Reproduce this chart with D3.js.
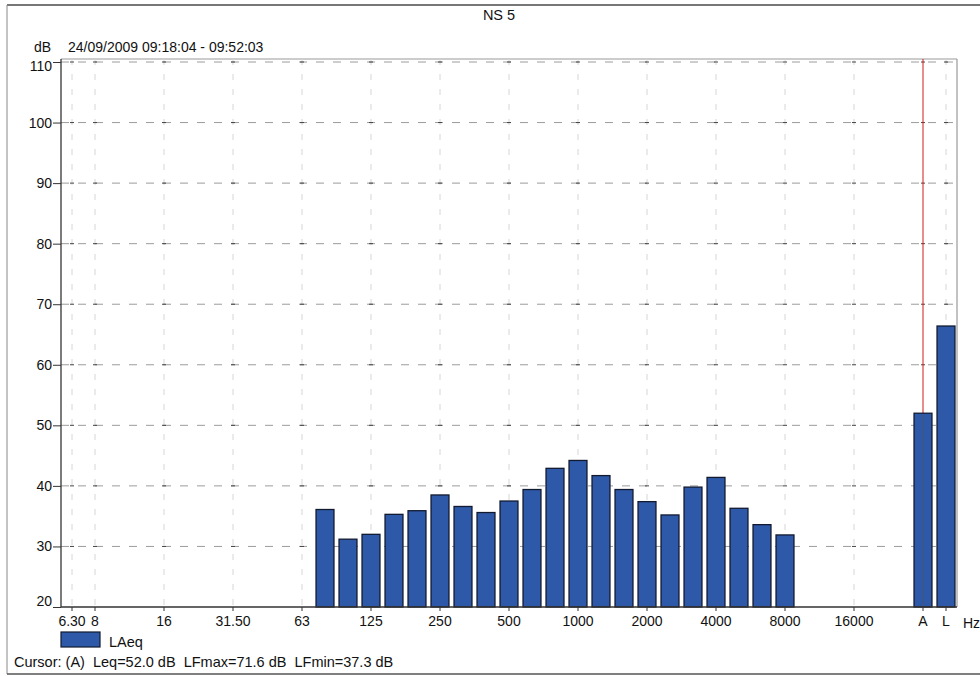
<!DOCTYPE html>
<html>
<head>
<meta charset="utf-8">
<script src="https://cdn.jsdelivr.net/npm/d3@7/dist/d3.min.js"></script>
<style>
  html, body { margin: 0; padding: 0; background: #fff; }
  svg { display: block; font-family: "Liberation Sans", Arial, sans-serif; }
</style>
</head>
<body>
<svg id="chart" width="980" height="676"></svg>
<script>
// Third-octave bands, a spacer slot, then the broadband A and L columns
const categories = ["6.30","8","10","12.5","16","20","25","31.50","40","50","63",
  "80","100","125","160","200","250","315","400","500","630","800","1000","1250",
  "1600","2000","2500","3150","4000","5000","6300","8000","10000","12500","16000",
  "20000","gap","A","L"];

// Bands shown on the frequency axis
const tickLabels = ["6.30","8","16","31.50","63","125","250","500","1000","2000",
  "4000","8000","16000","A","L"];

// LAeq per band (dB), 80 Hz .. 8000 Hz
const bandNames = ["80","100","125","160","200","250","315","400","500","630","800",
  "1000","1250","1600","2000","2500","3150","4000","5000","6300","8000"];
const bandValues = [36.1, 31.2, 32.0, 35.3, 35.9, 38.5, 36.6, 35.6, 37.5, 39.4, 42.9,
  44.2, 41.7, 39.4, 37.4, 35.2, 39.8, 41.4, 36.3, 33.6, 31.9];

// Broadband totals (dB)
const totalNames = ["A", "L"];
const totalValues = [52.0, 66.4];

const yTicks = [20, 30, 40, 50, 60, 70, 80, 90, 100, 110];

const svg = d3.select("#chart");

const x = d3.scaleBand()
  .domain(categories)
  .range([60.5, 957.5])
  .paddingInner(0.22)
  .paddingOuter(0.11);

const y = d3.scaleLinear().domain([20, 110]).range([607, 62]);

const plotTop = 59, plotBottom = 607, plotLeft = 61, plotRight = 957;
const cx = d => x(d) + x.bandwidth() / 2;
const barFill = "#2e59a8", barStroke = "#121a30";

// Outer page frame
svg.append("line").attr("x1", 7).attr("x2", 980).attr("y1", 5).attr("y2", 5)
  .attr("stroke", "#777").attr("stroke-width", 2);
svg.append("line").attr("x1", 7).attr("x2", 7).attr("y1", 5).attr("y2", 674)
  .attr("stroke", "#888").attr("stroke-width", 1);
svg.append("line").attr("x1", 7).attr("x2", 980).attr("y1", 674).attr("y2", 674)
  .attr("stroke", "#555").attr("stroke-width", 1.5);

// Title and header
svg.append("text").attr("x", 499).attr("y", 20).attr("text-anchor", "middle")
  .attr("font-size", 14.5).attr("fill", "#111").text("NS 5");
svg.append("text").attr("x", 34).attr("y", 52)
  .attr("font-size", 14).attr("fill", "#111").text("dB");
svg.append("text").attr("x", 68).attr("y", 52)
  .attr("font-size", 14).attr("fill", "#111").text("24/09/2009 09:18:04 - 09:52:03");

// Plot frame (top and right)
svg.append("line").attr("x1", plotLeft).attr("x2", plotRight).attr("y1", plotTop).attr("y2", plotTop)
  .attr("stroke", "#999").attr("stroke-width", 1.2);
svg.append("line").attr("x1", plotRight).attr("x2", plotRight).attr("y1", plotTop).attr("y2", plotBottom)
  .attr("stroke", "#999").attr("stroke-width", 1.2);

// Vertical grid at labelled bands
const grid = svg.append("g");
grid.selectAll("line.v")
  .data(tickLabels.filter(d => d !== "A"))
  .join("line")
  .attr("x1", d => cx(d)).attr("x2", d => cx(d))
  .attr("y1", plotTop).attr("y2", plotBottom)
  .attr("stroke", "#d6d6d6").attr("stroke-width", 1)
  .attr("stroke-dasharray", "6,9");

// Horizontal grid
grid.selectAll("line.h")
  .data(yTicks.slice(1))
  .join("line")
  .attr("x1", plotLeft).attr("x2", plotRight)
  .attr("y1", d => y(d)).attr("y2", d => y(d))
  .attr("stroke", "#9c9c9c").attr("stroke-width", 1)
  .attr("stroke-dasharray", "8,9");

// Small crosses where the grid lines meet
const crosses = [];
tickLabels.forEach(t => yTicks.slice(1).forEach(v => crosses.push([t, v])));
grid.selectAll("line.c")
  .data(crosses)
  .join("line")
  .attr("x1", d => cx(d[0]) - 2).attr("x2", d => cx(d[0]) + 2)
  .attr("y1", d => y(d[1])).attr("y2", d => y(d[1]))
  .attr("stroke", "#444").attr("stroke-width", 1);

// Cursor at A
svg.append("line").attr("x1", cx("A")).attr("x2", cx("A"))
  .attr("y1", plotTop).attr("y2", plotBottom)
  .attr("stroke", "#cc1a1a").attr("stroke-width", 1);

// Bars
const barData = bandNames.map((b, i) => ({ k: b, v: bandValues[i] }))
  .concat(totalNames.map((b, i) => ({ k: b, v: totalValues[i] })));

svg.append("g").selectAll("rect")
  .data(barData)
  .join("rect")
  .attr("x", d => x(d.k))
  .attr("width", x.bandwidth())
  .attr("y", d => y(d.v))
  .attr("height", d => y(20) - y(d.v))
  .attr("fill", barFill)
  .attr("stroke", barStroke)
  .attr("stroke-width", 1.3);

// Cursor trace showing through the A column
svg.append("line").attr("x1", cx("A")).attr("x2", cx("A"))
  .attr("y1", y(totalValues[0]) + 1).attr("y2", plotBottom)
  .attr("stroke", "#555").attr("stroke-opacity", 0.6).attr("stroke-width", 1);

// Y axis
const yAxis = d3.axisLeft(y).tickValues(yTicks).tickSize(8).tickPadding(1);
svg.append("g")
  .attr("transform", `translate(${plotLeft},0)`)
  .call(yAxis)
  .call(g => g.select(".domain").attr("d", `M0,${plotTop}V${plotBottom}`).attr("stroke", "#333").attr("stroke-width", 1.3))
  .call(g => g.selectAll(".tick line").attr("stroke", "#333"))
  .call(g => g.selectAll(".tick text").attr("font-size", 14).attr("fill", "#111")
    .attr("font-family", "Liberation Sans, Arial, sans-serif"))
  .call(g => g.selectAll(".tick").filter(d => d === 20).select("text").attr("dy", "-0.1em"))
  .call(g => g.selectAll(".tick").filter(d => d === 110).select("text").attr("dy", "0.62em"));

// X axis
const xAxis = d3.axisBottom(x).tickValues(tickLabels).tickSize(4).tickPadding(5);
svg.append("g")
  .attr("transform", `translate(0,${plotBottom})`)
  .call(xAxis)
  .call(g => g.select(".domain").attr("d", `M${plotLeft},0H${plotRight}`).attr("stroke", "#333").attr("stroke-width", 1.3))
  .call(g => g.selectAll(".tick line").attr("stroke", "#333"))
  .call(g => g.selectAll(".tick text").attr("font-size", 14).attr("fill", "#111")
    .attr("font-family", "Liberation Sans, Arial, sans-serif"));

svg.append("text").attr("x", 963).attr("y", 628)
  .attr("font-size", 14).attr("fill", "#111").text("Hz");

// Legend
svg.append("rect").attr("x", 61).attr("y", 632).attr("width", 39).attr("height", 15)
  .attr("fill", barFill).attr("stroke", barStroke).attr("stroke-width", 1.2);
svg.append("text").attr("x", 109).attr("y", 647)
  .attr("font-size", 14.5).attr("fill", "#111").text("LAeq");

// Cursor readout
svg.append("text").attr("x", 14).attr("y", 667)
  .attr("font-size", 14.5).attr("fill", "#111")
  .attr("xml:space", "preserve")
  .text("Cursor: (A)  Leq=52.0 dB  LFmax=71.6 dB  LFmin=37.3 dB");
</script>
</body>
</html>
